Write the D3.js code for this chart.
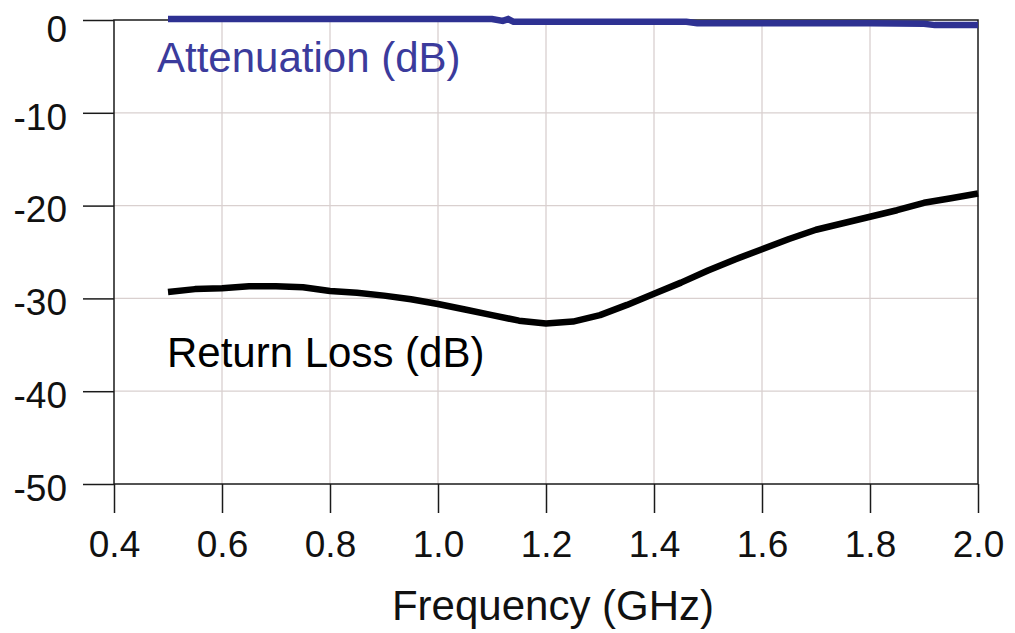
<!DOCTYPE html>
<html>
<head>
<meta charset="utf-8">
<script src="https://cdn.jsdelivr.net/npm/d3@7"></script>
<style>
  html, body { margin: 0; padding: 0; background: #fff; overflow: hidden; }
  svg { display: block; font-family: "Liberation Sans", Arial, sans-serif; }
</style>
</head>
<body>
<div id="chart"></div>
<script>
// Frequency sweep (GHz)
const freqs = [0.50, 0.55, 0.60, 0.65, 0.70, 0.75, 0.80, 0.85, 0.90, 0.95,
               1.00, 1.05, 1.10, 1.15, 1.20, 1.25, 1.30, 1.35, 1.40, 1.45,
               1.50, 1.55, 1.60, 1.65, 1.70, 1.75, 1.80, 1.85, 1.90, 1.95, 2.00];
// Return loss (dB)
const returnLoss = [-29.3, -29.0, -28.9, -28.7, -28.7, -28.8, -29.2, -29.4, -29.7, -30.1,
                    -30.6, -31.2, -31.8, -32.4, -32.7, -32.5, -31.8, -30.7, -29.5, -28.3,
                    -27.0, -25.8, -24.7, -23.6, -22.6, -21.9, -21.2, -20.5, -19.7, -19.2, -18.7];
// Attenuation (dB)
const attFreqs = [0.50, 0.80, 1.10, 1.12, 1.13, 1.14, 1.30, 1.46, 1.48, 1.80, 1.90, 1.92, 2.00];
const attenuation = [0.1, 0.1, 0.1, -0.1, 0.1, -0.2, -0.2, -0.2, -0.35, -0.35, -0.4, -0.55, -0.55];

const xTicks = [0.4, 0.6, 0.8, 1.0, 1.2, 1.4, 1.6, 1.8, 2.0];
const yTicks = [0, -10, -20, -30, -40, -50];

const width = 1015, height = 633;
const margin = { top: 20, right: 37, bottom: 149, left: 114 };
const innerWidth = width - margin.left - margin.right;
const innerHeight = height - margin.top - margin.bottom;

const svg = d3.select('#chart').append('svg')
    .attr('width', width)
    .attr('height', height);

const g = svg.append('g')
    .attr('transform', `translate(${margin.left}, ${margin.top})`);

const x = d3.scaleLinear().domain([0.4, 2.0]).range([0, innerWidth]);
const y = d3.scaleLinear().domain([-50, 0]).range([innerHeight, 0]);

// Gridlines
g.append('g')
    .selectAll('line')
    .data(xTicks.slice(1, -1))
    .enter().append('line')
    .attr('x1', d => x(d)).attr('x2', d => x(d))
    .attr('y1', 0).attr('y2', innerHeight)
    .attr('stroke', '#d9d0cf').attr('stroke-width', 1.3);

g.append('g')
    .selectAll('line')
    .data(yTicks.slice(1, -1))
    .enter().append('line')
    .attr('x1', 0).attr('x2', innerWidth)
    .attr('y1', d => y(d)).attr('y2', d => y(d))
    .attr('stroke', '#d9d0cf').attr('stroke-width', 1.3);

// Frame
g.append('rect')
    .attr('width', innerWidth).attr('height', innerHeight)
    .attr('fill', 'none').attr('stroke', '#1a1a1a').attr('stroke-width', 1.5);

// Axes
const xAxis = g.append('g')
    .attr('transform', `translate(0, ${innerHeight})`)
    .call(d3.axisBottom(x).tickValues(xTicks).tickFormat(d => d.toFixed(1))
        .tickSize(29).tickPadding(18));
xAxis.select('.domain').remove();
xAxis.selectAll('line').attr('stroke', '#1a1a1a').attr('stroke-width', 1.5);
xAxis.selectAll('text')
    .style('font-size', '37px')
    .attr('fill', '#111')
    .attr('font-family', '"Liberation Sans", Arial, sans-serif');

const yAxis = g.append('g')
    .call(d3.axisLeft(y).tickValues(yTicks).tickFormat(d => d.toString())
        .tickSize(31).tickPadding(16));
yAxis.select('.domain').remove();
yAxis.selectAll('line').attr('stroke', '#1a1a1a').attr('stroke-width', 1.5);
yAxis.selectAll('text')
    .style('font-size', '37px')
    .attr('fill', '#111')
    .attr('font-family', '"Liberation Sans", Arial, sans-serif')
    .attr('dy', d => d === 0 ? '0.57em' : '0.44em');

// Axis title
svg.append('text')
    .attr('x', 553)
    .attr('y', 620)
    .attr('text-anchor', 'middle')
    .style('font-size', '42px')
    .attr('fill', '#111')
    .text('Frequency (GHz)');

// Lines
const line = d3.line()
    .x(d => x(d[0]))
    .y(d => y(d[1]));

g.append('path')
    .datum(attFreqs.map((f, i) => [f, attenuation[i]]))
    .attr('fill', 'none')
    .attr('stroke', '#2e3192')
    .attr('stroke-width', 6.5)
    .attr('d', line);

g.append('path')
    .datum(freqs.map((f, i) => [f, returnLoss[i]]))
    .attr('fill', 'none')
    .attr('stroke', '#000')
    .attr('stroke-width', 6.5)
    .attr('stroke-linejoin', 'round')
    .attr('d', line);

// Series labels
svg.append('text')
    .attr('x', 157).attr('y', 72)
    .style('font-size', '42px')
    .attr('fill', '#3b3b9c')
    .text('Attenuation (dB)');

svg.append('text')
    .attr('x', 167).attr('y', 367)
    .style('font-size', '42px')
    .attr('fill', '#000')
    .text('Return Loss (dB)');
</script>
</body>
</html>
